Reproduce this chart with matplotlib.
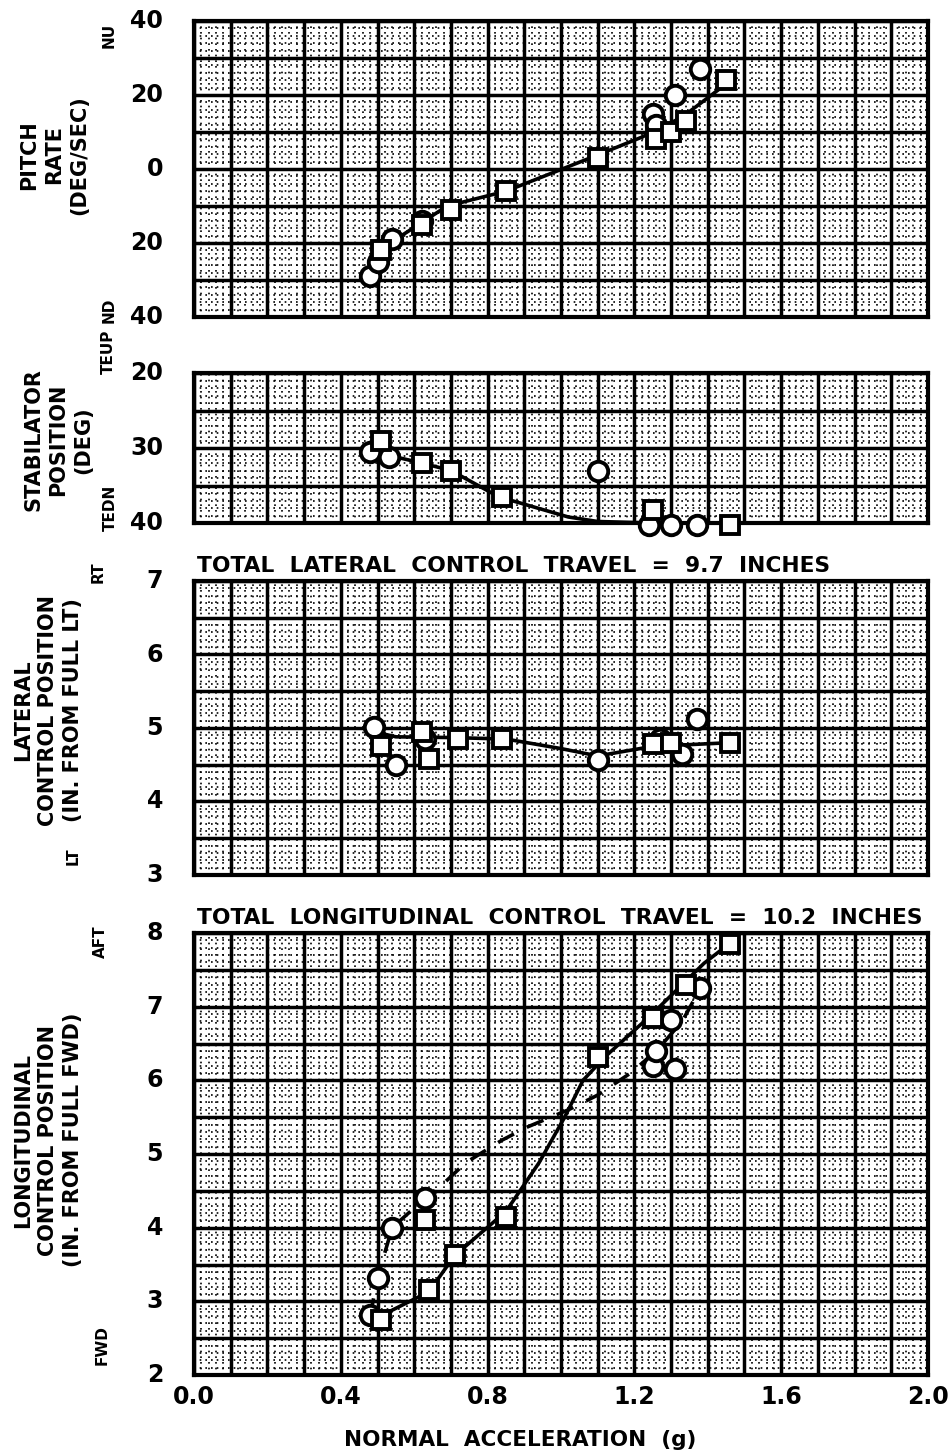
import matplotlib
matplotlib.use("Agg")
import matplotlib.pyplot as plt
from matplotlib.ticker import MultipleLocator

# ---------------- data ----------------
# Panel 1: pitch rate (deg/s), positive = nose up
p1_circ_x = [0.48, 0.50, 0.54, 0.62, 1.25, 1.26, 1.31, 1.38]
p1_circ_y = [-29, -25, -19, -14, 15, 12, 20, 27]
p1_sq_x = [0.51, 0.62, 0.70, 0.85, 1.10, 1.26, 1.30, 1.34, 1.45]
p1_sq_y = [-22, -15, -11, -6, 3, 8, 10, 13, 24]
p1_fair_x = [0.48, 0.55, 0.69, 0.85, 1.08, 1.22, 1.33, 1.45]
p1_fair_y = [-29, -19, -10, -6, 3, 8.6, 14, 23]

# Panel 2: stabilator position (deg)
p2_circ_x = [0.48, 0.53, 1.10, 1.24, 1.30, 1.37]
p2_circ_y = [30.5, 31.2, 33.0, 40.3, 40.3, 40.3]
p2_sq_x = [0.51, 0.62, 0.70, 0.84, 1.25, 1.46]
p2_sq_y = [29.0, 32.0, 33.0, 36.5, 38.3, 40.3]
p2_fair_x = [0.49, 0.55, 0.62, 0.70, 0.83, 1.02, 1.10, 1.25, 1.46]
p2_fair_y = [30.5, 31.2, 32.0, 33.0, 36.5, 39.2, 39.8, 40.0, 40.0]

# Panel 3: lateral control position (in. from full left)
p3_circ_x = [0.49, 0.55, 0.63, 1.10, 1.27, 1.33, 1.37]
p3_circ_y = [5.02, 4.50, 4.85, 4.57, 4.85, 4.65, 5.12]
p3_sq_x = [0.51, 0.62, 0.64, 0.72, 0.84, 1.25, 1.30, 1.46]
p3_sq_y = [4.75, 4.95, 4.58, 4.85, 4.85, 4.78, 4.80, 4.80]
p3_fair_x = [0.49, 0.55, 0.70, 0.85, 1.00, 1.10, 1.25, 1.46]
p3_fair_y = [4.95, 4.88, 4.87, 4.85, 4.72, 4.62, 4.75, 4.80]

# Panel 4: longitudinal control position (in. from full forward)
p4_circ_x = [0.48, 0.50, 0.54, 0.63, 1.25, 1.26, 1.30, 1.31, 1.38]
p4_circ_y = [2.82, 3.32, 4.00, 4.40, 6.20, 6.40, 6.82, 6.15, 7.25]
p4_sq_x = [0.51, 0.64, 0.63, 0.71, 0.85, 1.10, 1.25, 1.34, 1.46]
p4_sq_y = [2.75, 3.15, 4.10, 3.63, 4.14, 6.32, 6.85, 7.30, 7.85]
p4_solid_x = [0.50, 0.64, 0.71, 0.85, 0.94, 1.01, 1.06, 1.12, 1.24, 1.39, 1.46]
p4_solid_y = [2.78, 3.13, 3.62, 4.22, 4.88, 5.50, 6.00, 6.32, 6.86, 7.59, 7.86]
p4_dash_x = [0.48, 0.50, 0.54, 0.63, 0.68, 0.74, 0.84, 0.91, 1.02, 1.10, 1.19, 1.26, 1.33, 1.38]
p4_dash_y = [2.80, 3.32, 4.00, 4.40, 4.60, 4.88, 5.19, 5.37, 5.60, 5.80, 6.10, 6.40, 6.80, 7.25]

# tick labels
x_tick_vals = [0.0, 0.4, 0.8, 1.2, 1.6, 2.0]
x_tick_labels = ["0.0", "0.4", "0.8", "1.2", "1.6", "2.0"]
p1_tick_vals = [40, 20, 0, -20, -40]
p1_tick_labels = ["40", "20", "0", "20", "40"]
p2_tick_vals = [20, 30, 40]
p2_tick_labels = ["20", "30", "40"]
p3_tick_vals = [3, 4, 5, 6, 7]
p3_tick_labels = ["3", "4", "5", "6", "7"]
p4_tick_vals = [2, 3, 4, 5, 6, 7, 8]
p4_tick_labels = ["2", "3", "4", "5", "6", "7", "8"]

# ---------------- figure ----------------
W, H = 953, 1455
fig = plt.figure(figsize=(W / 100, H / 100), dpi=100)
plt.rcParams["font.family"] = "DejaVu Sans"
plt.rcParams["font.weight"] = "bold"

LEFT, RIGHT = 194, 928


def make_ax(top, bottom, ylim, ymaj, ymin, ticks, labels):
    ax = fig.add_axes([LEFT / W, 1 - bottom / H, (RIGHT - LEFT) / W, (bottom - top) / H])
    ax.set_xlim(0, 2)
    ax.set_ylim(*ylim)
    ax.xaxis.set_major_locator(MultipleLocator(0.1))
    ax.xaxis.set_minor_locator(MultipleLocator(0.02))
    ax.yaxis.set_major_locator(MultipleLocator(ymaj))
    ax.yaxis.set_minor_locator(MultipleLocator(ymin))
    ax.grid(which="major", color="black", lw=2.5)
    ax.grid(which="minor", color="black", lw=1.2, ls=(0, (1, 2.4)))
    ax.set_axisbelow(True)
    ax.tick_params(which="both", length=0)
    ax.set_xticklabels([])
    ax.set_yticklabels([])
    for s in ax.spines.values():
        s.set_linewidth(3.0)
    for v, lab in zip(ticks, labels):
        ax.text(-0.042, v, lab, transform=ax.get_yaxis_transform(), ha="right",
                va="center", fontsize=17, fontweight="bold")
    return ax


def draw(ax, cx, cy, sx, sy):
    ax.plot(cx, cy, ls="none", marker="o", ms=14, mfc="white", mec="black",
            mew=2.8, zorder=4, clip_on=False)
    ax.plot(sx, sy, ls="none", marker="s", ms=12.5, mfc="white", mec="black",
            mew=2.8, zorder=4, clip_on=False)


ax1 = make_ax(21, 317, (-40, 40), 10, 2, p1_tick_vals, p1_tick_labels)
ax1.plot(p1_fair_x, p1_fair_y, color="black", lw=2.6, zorder=3)
draw(ax1, p1_circ_x, p1_circ_y, p1_sq_x, p1_sq_y)

ax2 = make_ax(373, 523, (40, 20), 5, 1, p2_tick_vals, p2_tick_labels)
ax2.plot(p2_fair_x, p2_fair_y, color="black", lw=2.6, zorder=3)
draw(ax2, p2_circ_x, p2_circ_y, p2_sq_x, p2_sq_y)

ax3 = make_ax(581, 875, (3, 7), 0.5, 0.1, p3_tick_vals, p3_tick_labels)
ax3.plot(p3_fair_x, p3_fair_y, color="black", lw=2.6, zorder=3)
draw(ax3, p3_circ_x, p3_circ_y, p3_sq_x, p3_sq_y)

ax4 = make_ax(933, 1375, (2, 8), 0.5, 0.1, p4_tick_vals, p4_tick_labels)
ax4.plot(p4_solid_x, p4_solid_y, color="black", lw=2.6, zorder=3)
ax4.plot(p4_dash_x, p4_dash_y, color="black", lw=2.6, ls=(0, (5, 4)), zorder=3)
draw(ax4, p4_circ_x, p4_circ_y, p4_sq_x, p4_sq_y)

for v, lab in zip(x_tick_vals, x_tick_labels):
    ax4.text(v, -0.022, lab, transform=ax4.get_xaxis_transform(), ha="center",
             va="top", fontsize=17, fontweight="bold")


def ftext(px, py, s, **kw):
    fig.text(px / W, 1 - py / H, s, **kw)


lab = dict(rotation=90, ha="center", va="center", multialignment="center",
           fontweight="bold", fontsize=15, linespacing=1.3)
ftext(54, 155, "PITCH\nRATE\n(DEG/SEC)", **lab)
ftext(58, 440, "STABILATOR\nPOSITION\n(DEG)", **lab)
ftext(48, 710, "LATERAL\nCONTROL POSITION\n(IN. FROM FULL LT)", **lab)
ftext(48, 1140, "LONGITUDINAL\nCONTROL POSITION\n(IN. FROM FULL FWD)", **lab)

side = dict(rotation=90, ha="center", va="center", fontweight="bold", fontsize=11)
ftext(109, 35, "NU", **side)
ftext(109, 310, "ND", **side)
ftext(108, 352, "TEUP", **side)
ftext(110, 508, "TEDN", **side)
ftext(98, 572, "RT", **side)
ftext(73, 856, "LT", **side)
ftext(100, 942, "AFT", **side)
ftext(102, 1345, "FWD", **side)

ftext(197, 566, "TOTAL  LATERAL  CONTROL  TRAVEL  =  9.7  INCHES",
      ha="left", va="center", fontsize=15.7, fontweight="bold")
ftext(197, 918, "TOTAL  LONGITUDINAL  CONTROL  TRAVEL  =  10.2  INCHES",
      ha="left", va="center", fontsize=15.7, fontweight="bold")
ftext(520, 1440, "NORMAL  ACCELERATION  (g)", ha="center", va="center",
      fontsize=15.5, fontweight="bold")

fig.savefig("out.png", dpi=100)
